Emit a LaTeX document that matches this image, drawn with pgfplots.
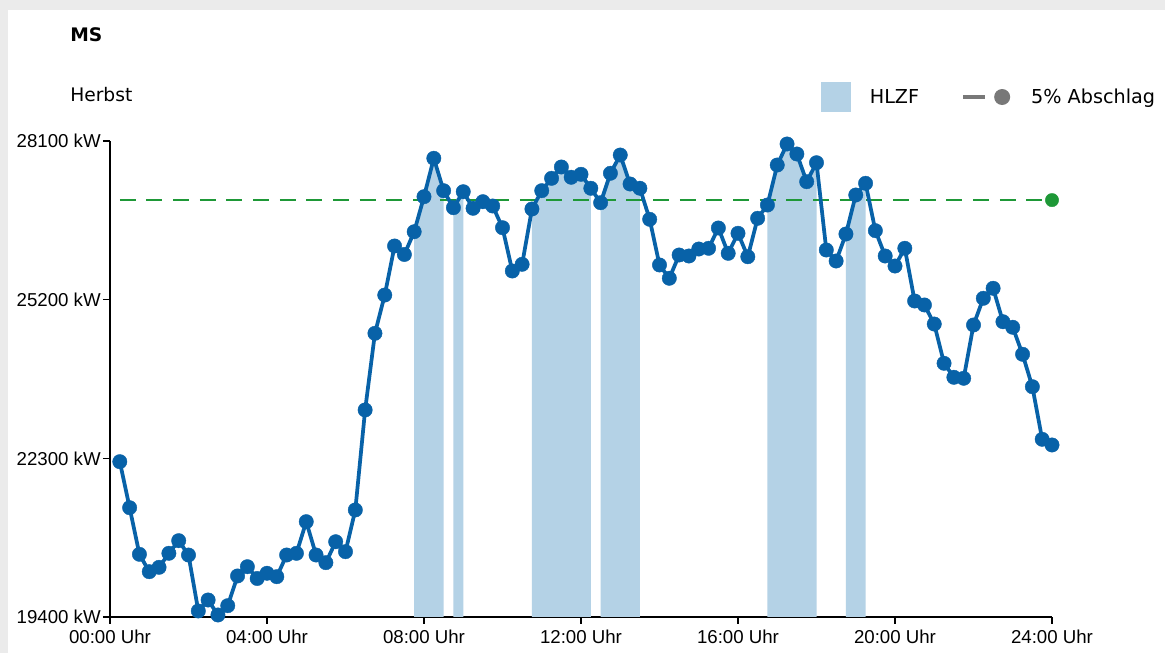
\documentclass[border=0pt]{standalone}
\usepackage{pgfplots}
\pgfplotsset{compat=1.18}
\usepackage{pgfplotstable}
\usepackage{fontspec}
\setmainfont{DejaVu Sans}
\newfontfamily\arialf{Liberation Sans}
\definecolor{lineblue}{RGB}{8,98,168}
\definecolor{hlzf}{RGB}{180,210,230}
\definecolor{dgreen}{RGB}{30,152,55}
\definecolor{leggray}{RGB}{120,120,120}

\pgfplotstableread{
t p
0.25 22239
0.5 21398
0.75 20546
1.0 20228
1.25 20308
1.5 20564
1.75 20795
2.0 20533
2.25 19510
2.5 19711
2.75 19437
3.0 19607
3.25 20150
3.5 20319
3.75 20104
4.0 20199
4.25 20137
4.5 20533
4.75 20564
5.0 21142
5.25 20533
5.5 20393
5.75 20776
6.0 20594
6.25 21356
6.5 23184
6.75 24585
7.0 25285
7.25 26181
7.5 26026
7.75 26442
8.0 27082
8.25 27784
8.5 27192
8.75 26881
9.0 27173
9.25 26870
9.5 26991
9.75 26912
10.0 26515
10.25 25724
10.5 25846
10.75 26857
11.0 27192
11.25 27418
11.5 27625
11.75 27437
12.0 27491
12.25 27236
12.5 26972
12.75 27510
13.0 27844
13.25 27314
13.5 27236
13.75 26669
14.0 25834
14.25 25591
14.5 26016
14.75 25998
15.0 26126
15.25 26139
15.5 26510
15.75 26047
16.0 26413
16.25 25985
16.5 26687
16.75 26930
17.0 27661
17.25 28045
17.5 27862
17.75 27356
18.0 27703
18.25 26108
18.5 25907
18.75 26400
19.0 27113
19.25 27327
19.5 26461
19.75 25998
20.0 25815
20.25 26139
20.5 25176
20.75 25103
21.0 24755
21.25 24037
21.5 23781
21.75 23763
22.0 24737
22.25 25225
22.5 25408
22.75 24797
23.0 24695
23.25 24202
23.5 23609
23.75 22648
24.0 22544
}\data

\begin{document}
\begin{tikzpicture}
\fill[black!8] (0,0) rectangle (873.75pt,489.75pt);
\fill[white] (6pt,0) rectangle (873.75pt,482.25pt);
\path[use as bounding box] (0,0) rectangle (873.75pt,489.75pt);
\node[anchor=west, inner sep=0pt, font=\bfseries\fontsize{14}{17}\selectfont] at (52.5pt,463.5pt) {MS};
\node[anchor=west, inner sep=0pt, font=\fontsize{14}{17}\selectfont] at (52.5pt,418.5pt) {Herbst};
\begin{axis}[
  at={(82.5pt,27pt)}, anchor=south west,
  scale only axis, width=706.5pt, height=357pt,
  xmin=0, xmax=24, ymin=19400, ymax=28100,
  scaled y ticks=false, scaled x ticks=false,
  axis x line=bottom, axis y line=left,
  axis line style={-, line width=1.5pt, black},
  tick align=outside, major tick length=5.25pt,
  tick style={line width=1.2pt, black},
  xtick={0,4,8,12,16,20,24},
  xticklabels={00:00 Uhr,04:00 Uhr,08:00 Uhr,12:00 Uhr,16:00 Uhr,20:00 Uhr,24:00 Uhr},
  ytick={19400,22300,25200,28100},
  yticklabels={19400 kW,22300 kW,25200 kW,28100 kW},
  ticklabel style={font=\arialf\fontsize{14}{16}\selectfont},
  yticklabel style={inner sep=1.5pt},
  xticklabel style={inner sep=4pt},
  legend columns=2,
  legend style={draw=none, fill=none, inner sep=0pt, outer sep=0pt,
    at={(1.1094,1.0924)}, anchor=east,
    nodes={inner sep=0pt},
    font=\fontsize{14.4}{17}\selectfont,
    /tikz/every even column/.append style={column sep=31.5pt}},
]
\addplot[fill=hlzf, draw=none, forget plot] table[x=t,y=p, restrict x to domain=7.7:8.55] {\data} \closedcycle;
\addplot[fill=hlzf, draw=none, forget plot] table[x=t,y=p, restrict x to domain=8.7:9.05] {\data} \closedcycle;
\addplot[fill=hlzf, draw=none, forget plot] table[x=t,y=p, restrict x to domain=10.7:12.3] {\data} \closedcycle;
\addplot[fill=hlzf, draw=none, forget plot] table[x=t,y=p, restrict x to domain=12.45:13.55] {\data} \closedcycle;
\addplot[fill=hlzf, draw=none, forget plot] table[x=t,y=p, restrict x to domain=16.7:18.05] {\data} \closedcycle;
\addplot[fill=hlzf, draw=none, forget plot] table[x=t,y=p, restrict x to domain=18.7:19.3] {\data} \closedcycle;
\addplot[dgreen, line width=1.8pt, dash pattern=on 12pt off 8pt, forget plot] coordinates {(0.25,27020) (24,27020)};
\addplot[only marks, mark=*, mark size=5pt, mark options={fill=dgreen, draw=dgreen, line width=0.3pt}, forget plot] coordinates {(24,27020)};
\addplot[lineblue, line width=2.8pt, mark=*, mark size=5.4pt, mark options={solid, fill=lineblue, draw=lineblue, line width=0.3pt}, forget plot] table[x=t,y=p] {\data};
\addlegendimage{legend image code/.code={\fill[hlzf, draw=none] (0pt,-11.25pt) rectangle (22.5pt,11.25pt); \path[draw=none, fill=none] (0pt,0pt) -- (36.75pt,0pt);}}
\addlegendentry{HLZF}
\addlegendimage{legend image code/.code={\draw[leggray, line width=3pt] (0pt,0pt) -- (16.5pt,0pt); \fill[leggray, draw=none] (29.25pt,0pt) circle (6pt); \path[draw=none, fill=none] (0pt,0pt) -- (51pt,0pt);}}
\addlegendentry{5\% Abschlag}
\end{axis}
\end{tikzpicture}
\end{document}
